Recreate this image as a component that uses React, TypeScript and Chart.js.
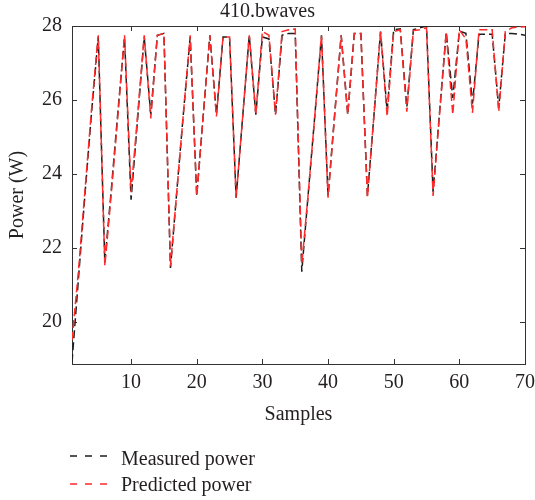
import React, { useEffect, useRef } from 'react';
import { Chart, registerables } from 'chart.js';

Chart.register(...registerables);

const TITLE = '410.bwaves';
const X_LABEL = 'Samples';
const Y_LABEL = 'Power (W)';
const SERIES_NAMES = ['Measured power', 'Predicted power'];

const SAMPLES = [
  1, 2, 3, 4, 5, 6, 7, 8, 9, 10,
  11, 12, 13, 14, 15, 16, 17, 18, 19, 20,
  21, 22, 23, 24, 25, 26, 27, 28, 29, 30,
  31, 32, 33, 34, 35, 36, 37, 38, 39, 40,
  41, 42, 43, 44, 45, 46, 47, 48, 49, 50,
  51, 52, 53, 54, 55, 56, 57, 58, 59, 60,
  61, 62, 63, 64, 65, 66, 67, 68, 69, 70,
];

const MEASURED = [
  18.9, 21.2, 23.5, 25.7, 27.7, 21.6, 23.6, 25.7, 27.7, 23.3,
  25.5, 27.7, 25.6, 27.75, 27.8, 21.45, 23.6, 25.7, 27.7, 23.4,
  25.6, 27.75, 25.6, 27.7, 27.7, 23.35, 25.55, 27.75, 25.6, 27.7,
  27.65, 25.6, 27.75, 27.8, 27.8, 21.35, 23.5, 25.6, 27.75, 23.4,
  25.6, 27.75, 25.6, 27.8, 27.8, 23.4, 25.6, 27.85, 25.7, 27.9,
  27.92, 25.8, 27.9, 27.95, 28.0, 23.5, 25.7, 27.83, 26.05, 27.86,
  27.8, 25.9, 27.78, 27.78, 27.78, 25.78, 27.8, 27.8, 27.78, 27.75,
];

const PREDICTED = [
  19.5, 21.4, 23.6, 25.8, 27.75, 21.5, 23.5, 25.6, 27.75, 23.5,
  25.6, 27.75, 25.5, 27.75, 27.8, 21.5, 23.6, 25.7, 27.75, 23.4,
  25.6, 27.75, 25.55, 27.7, 27.7, 23.35, 25.55, 27.75, 25.6, 27.85,
  27.75, 25.6, 27.85, 27.9, 27.92, 21.55, 23.5, 25.6, 27.75, 23.35,
  25.55, 27.75, 25.6, 27.8, 27.8, 23.35, 25.6, 27.85, 25.55, 27.85,
  27.9, 25.68, 27.88, 27.9, 27.95, 23.4, 25.65, 27.83, 25.6, 27.9,
  27.65, 25.65, 27.9, 27.9, 27.9, 25.68, 27.85, 27.95, 27.97, 27.98,
];

const X_TICKS = [10, 20, 30, 40, 50, 60, 70];
const Y_TICKS = [20, 22, 24, 26, 28];

const FONT = "'Liberation Serif', 'Times New Roman', serif";
const TEXT = '#231f20';
const AXIS = '#333333';
const BLACK = '#1e1e1e';
const RED = '#ff2a2a';

const framePlugin = {
  id: 'frameTicksLegend',
  beforeDatasetsDraw(chart: any) {
    const { ctx, chartArea: a, scales } = chart;
    ctx.save();
    ctx.strokeStyle = AXIS;
    ctx.lineWidth = 1;
    ctx.strokeRect(Math.round(a.left) + 0.5, Math.round(a.top) + 0.5, Math.round(a.right - a.left), Math.round(a.bottom - a.top));
    const tl = 5;
    ctx.beginPath();
    scales.x.ticks.forEach((t: any) => {
      const px = Math.round(scales.x.getPixelForValue(t.value)) + 0.5;
      ctx.moveTo(px, a.bottom);
      ctx.lineTo(px, a.bottom - tl);
      ctx.moveTo(px, a.top);
      ctx.lineTo(px, a.top + tl);
    });
    scales.y.ticks.forEach((t: any) => {
      const py = Math.round(scales.y.getPixelForValue(t.value)) + 0.5;
      ctx.moveTo(a.left, py);
      ctx.lineTo(a.left + tl, py);
      ctx.moveTo(a.right, py);
      ctx.lineTo(a.right - tl, py);
    });
    ctx.stroke();
    ctx.restore();
  },
  afterDraw(chart: any) {
    const { ctx, chartArea: a } = chart;
    const ds = chart.data.datasets;
    const baselines = [465, 491];
    const dashYs = [456, 484];
    ctx.save();
    ds.forEach((d: any, i: number) => {
      ctx.strokeStyle = d.borderColor;
      ctx.lineWidth = 1.3;
      ctx.setLineDash([7, 8]);
      ctx.beginPath();
      ctx.moveTo(a.left - 2, dashYs[i]);
      ctx.lineTo(a.left + 35, dashYs[i]);
      ctx.stroke();
      ctx.setLineDash([]);
      ctx.fillStyle = TEXT;
      ctx.font = `20px ${FONT}`;
      ctx.textBaseline = 'alphabetic';
      ctx.textAlign = 'left';
      ctx.fillText(d.label, a.left + 49, baselines[i]);
    });
    ctx.restore();
  },
};

export default function App() {
  const ref = useRef<HTMLCanvasElement | null>(null);

  useEffect(() => {
    if (!ref.current) return;
    const tickFont = { family: FONT, size: 20 };
    const chart = new Chart(ref.current, {
      type: 'line',
      data: {
        datasets: [
          {
            label: SERIES_NAMES[0],
            data: SAMPLES.map((x, i) => ({ x, y: MEASURED[i] })),
            borderColor: BLACK,
            borderWidth: 1.5,
            borderDash: [8, 4],
            pointRadius: 0,
            tension: 0,
            fill: false,
            order: 1,
          },
          {
            label: SERIES_NAMES[1],
            data: SAMPLES.map((x, i) => ({ x, y: PREDICTED[i] })),
            borderColor: RED,
            borderWidth: 1.5,
            borderDash: [8, 4],
            pointRadius: 0,
            tension: 0,
            fill: false,
            order: 0,
          },
        ],
      },
      options: {
        responsive: false,
        animation: false,
        devicePixelRatio: 1,
        layout: { padding: { left: 0, right: 0, top: 0, bottom: 73 } },
        plugins: {
          legend: { display: false },
          tooltip: { enabled: false },
          title: {
            display: true,
            text: TITLE,
            color: TEXT,
            font: { family: FONT, size: 20, weight: 'normal' },
            padding: { top: 0, bottom: 2 },
          },
        },
        scales: {
          x: {
            type: 'linear',
            min: 1,
            max: 70,
            afterBuildTicks: (s: any) => {
              s.ticks = X_TICKS.map((v) => ({ value: v }));
            },
            grid: { display: true, drawOnChartArea: false, drawTicks: true, tickLength: 9, color: 'rgba(0,0,0,0)' },
            border: { display: false },
            ticks: { font: { family: FONT, size: 20, lineHeight: 1.0 }, color: TEXT, padding: 0, maxRotation: 0, autoSkip: false },
            title: { display: true, text: X_LABEL, color: TEXT, font: tickFont, padding: { top: 10, bottom: 0 } },
          },
          y: {
            type: 'linear',
            min: 18.85,
            max: 28,
            afterBuildTicks: (s: any) => {
              s.ticks = Y_TICKS.map((v) => ({ value: v }));
            },
            grid: { display: false, drawTicks: false },
            border: { display: false },
            ticks: { font: tickFont, color: TEXT, padding: 10, autoSkip: false },
            title: { display: true, text: Y_LABEL, color: TEXT, font: tickFont, padding: { top: 6, bottom: 2 } },
          },
        },
      },
      plugins: [framePlugin],
    });
    return () => chart.destroy();
  }, []);

  return (
    <div style={{ position: 'absolute', left: 0, top: 0, width: 535, height: 500, background: '#fff' }}>
      <canvas ref={ref} width={535} height={500} />
    </div>
  );
}
